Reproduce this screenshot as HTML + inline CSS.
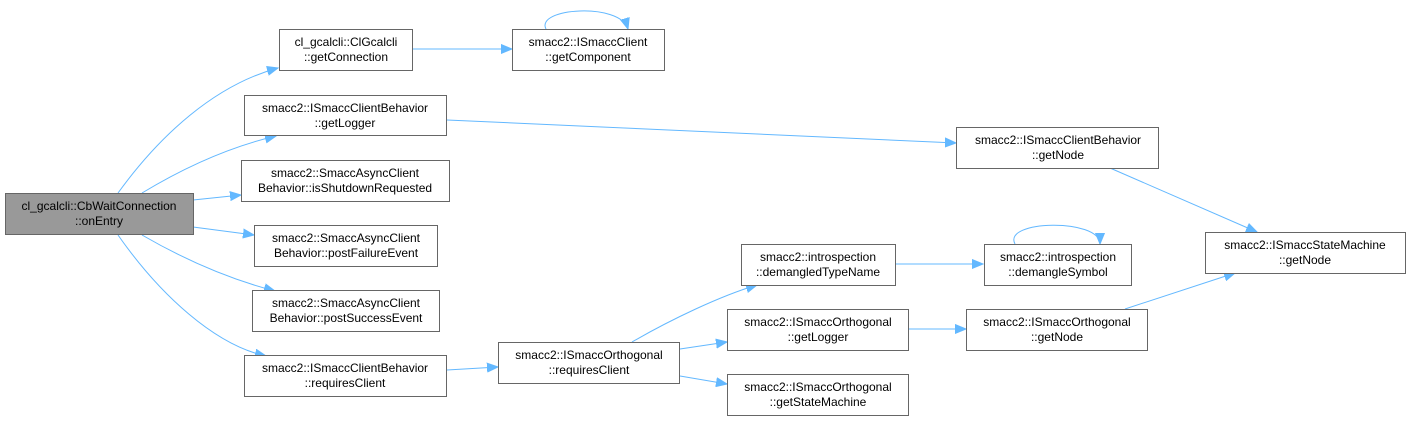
<!DOCTYPE html>
<html><head><meta charset="utf-8"><style>
body{margin:0;background:#fff;width:1411px;height:421px;overflow:hidden}
svg{display:block}
text{font-family:"Liberation Sans",Arial,sans-serif;font-size:12px;fill:#000}
.b{fill:#fff;stroke:#666;stroke-width:1}
.e{fill:none;stroke:#63b8ff;stroke-width:1}
</style></head><body>
<svg width="1411" height="421" viewBox="0 0 1411 421" xmlns="http://www.w3.org/2000/svg">
<defs><marker id="a" markerUnits="userSpaceOnUse" markerWidth="12" markerHeight="10" refX="11" refY="5" orient="auto"><path d="M0,0.5 L11,5 L0,9.5 z" fill="#63b8ff" stroke="#63b8ff"/></marker></defs>
<g class="e" marker-end="url(#a)">
<path d="M118,193 C160,135 215,85 278,68"/>
<path d="M142,193 C180,170 225,148 276,136"/>
<path d="M193,200 L241,195"/>
<path d="M193,227 L254,235"/>
<path d="M142,235 C180,257 225,278 275,291"/>
<path d="M118,235 C160,295 215,345 266,356"/>
<path d="M412,49 L512,49"/>
<path d="M546,29 C535,8 620,2 628,29"/>
<path d="M447,120 L956,143"/>
<path d="M447,370 L498,367"/>
<path d="M632,342 C670,320 720,296 757,285"/>
<path d="M680,349 L727,342"/>
<path d="M680,376 L727,384"/>
<path d="M896,264 L983,264"/>
<path d="M1015,244 C1002,220 1100,218 1100,244"/>
<path d="M908,329 L966,329"/>
<path d="M1110,168 L1257,232"/>
<path d="M1125,309 L1235,273"/>
</g>
<rect x="5.5" y="193.5" width="188" height="41" fill="#999" stroke="#666"/>
<text x="99" y="210" text-anchor="middle">cl_gcalcli::CbWaitConnection</text><text x="99" y="225" text-anchor="middle">::onEntry</text>
<g>
<rect class="b" x="279.5" y="29.5" width="133" height="41"/><text x="346" y="46" text-anchor="middle">cl_gcalcli::ClGcalcli</text><text x="346" y="61" text-anchor="middle">::getConnection</text>
<rect class="b" x="512.5" y="29.5" width="152" height="41"/><text x="588" y="46" text-anchor="middle">smacc2::ISmaccClient</text><text x="588" y="61" text-anchor="middle">::getComponent</text>
<rect class="b" x="244.5" y="95.5" width="202" height="40"/><text x="345" y="112" text-anchor="middle">smacc2::ISmaccClientBehavior</text><text x="345" y="127" text-anchor="middle">::getLogger</text>
<rect class="b" x="241.5" y="160.5" width="208" height="41"/><text x="345" y="177" text-anchor="middle">smacc2::SmaccAsyncClient</text><text x="345" y="192" text-anchor="middle">Behavior::isShutdownRequested</text>
<rect class="b" x="254.5" y="225.5" width="183" height="41"/><text x="346" y="242" text-anchor="middle">smacc2::SmaccAsyncClient</text><text x="346" y="257" text-anchor="middle">Behavior::postFailureEvent</text>
<rect class="b" x="252.5" y="290.5" width="187" height="41"/><text x="346" y="307" text-anchor="middle">smacc2::SmaccAsyncClient</text><text x="346" y="322" text-anchor="middle">Behavior::postSuccessEvent</text>
<rect class="b" x="244.5" y="355.5" width="202" height="41"/><text x="345" y="372" text-anchor="middle">smacc2::ISmaccClientBehavior</text><text x="345" y="387" text-anchor="middle">::requiresClient</text>
<rect class="b" x="498.5" y="342.5" width="181" height="41"/><text x="589" y="359" text-anchor="middle">smacc2::ISmaccOrthogonal</text><text x="589" y="374" text-anchor="middle">::requiresClient</text>
<rect class="b" x="741.5" y="244.5" width="154" height="41"/><text x="818" y="261" text-anchor="middle">smacc2::introspection</text><text x="818" y="276" text-anchor="middle">::demangledTypeName</text>
<rect class="b" x="727.5" y="309.5" width="181" height="41"/><text x="818" y="326" text-anchor="middle">smacc2::ISmaccOrthogonal</text><text x="818" y="341" text-anchor="middle">::getLogger</text>
<rect class="b" x="727.5" y="374.5" width="181" height="41"/><text x="818" y="391" text-anchor="middle">smacc2::ISmaccOrthogonal</text><text x="818" y="406" text-anchor="middle">::getStateMachine</text>
<rect class="b" x="984.5" y="244.5" width="147" height="41"/><text x="1058" y="261" text-anchor="middle">smacc2::introspection</text><text x="1058" y="276" text-anchor="middle">::demangleSymbol</text>
<rect class="b" x="966.5" y="309.5" width="181" height="41"/><text x="1057" y="326" text-anchor="middle">smacc2::ISmaccOrthogonal</text><text x="1057" y="341" text-anchor="middle">::getNode</text>
<rect class="b" x="956.5" y="127.5" width="202" height="41"/><text x="1058" y="144" text-anchor="middle">smacc2::ISmaccClientBehavior</text><text x="1058" y="159" text-anchor="middle">::getNode</text>
<rect class="b" x="1205.5" y="232.5" width="200" height="41"/><text x="1305" y="249" text-anchor="middle">smacc2::ISmaccStateMachine</text><text x="1305" y="264" text-anchor="middle">::getNode</text>
</g>
</svg>
</body></html>
